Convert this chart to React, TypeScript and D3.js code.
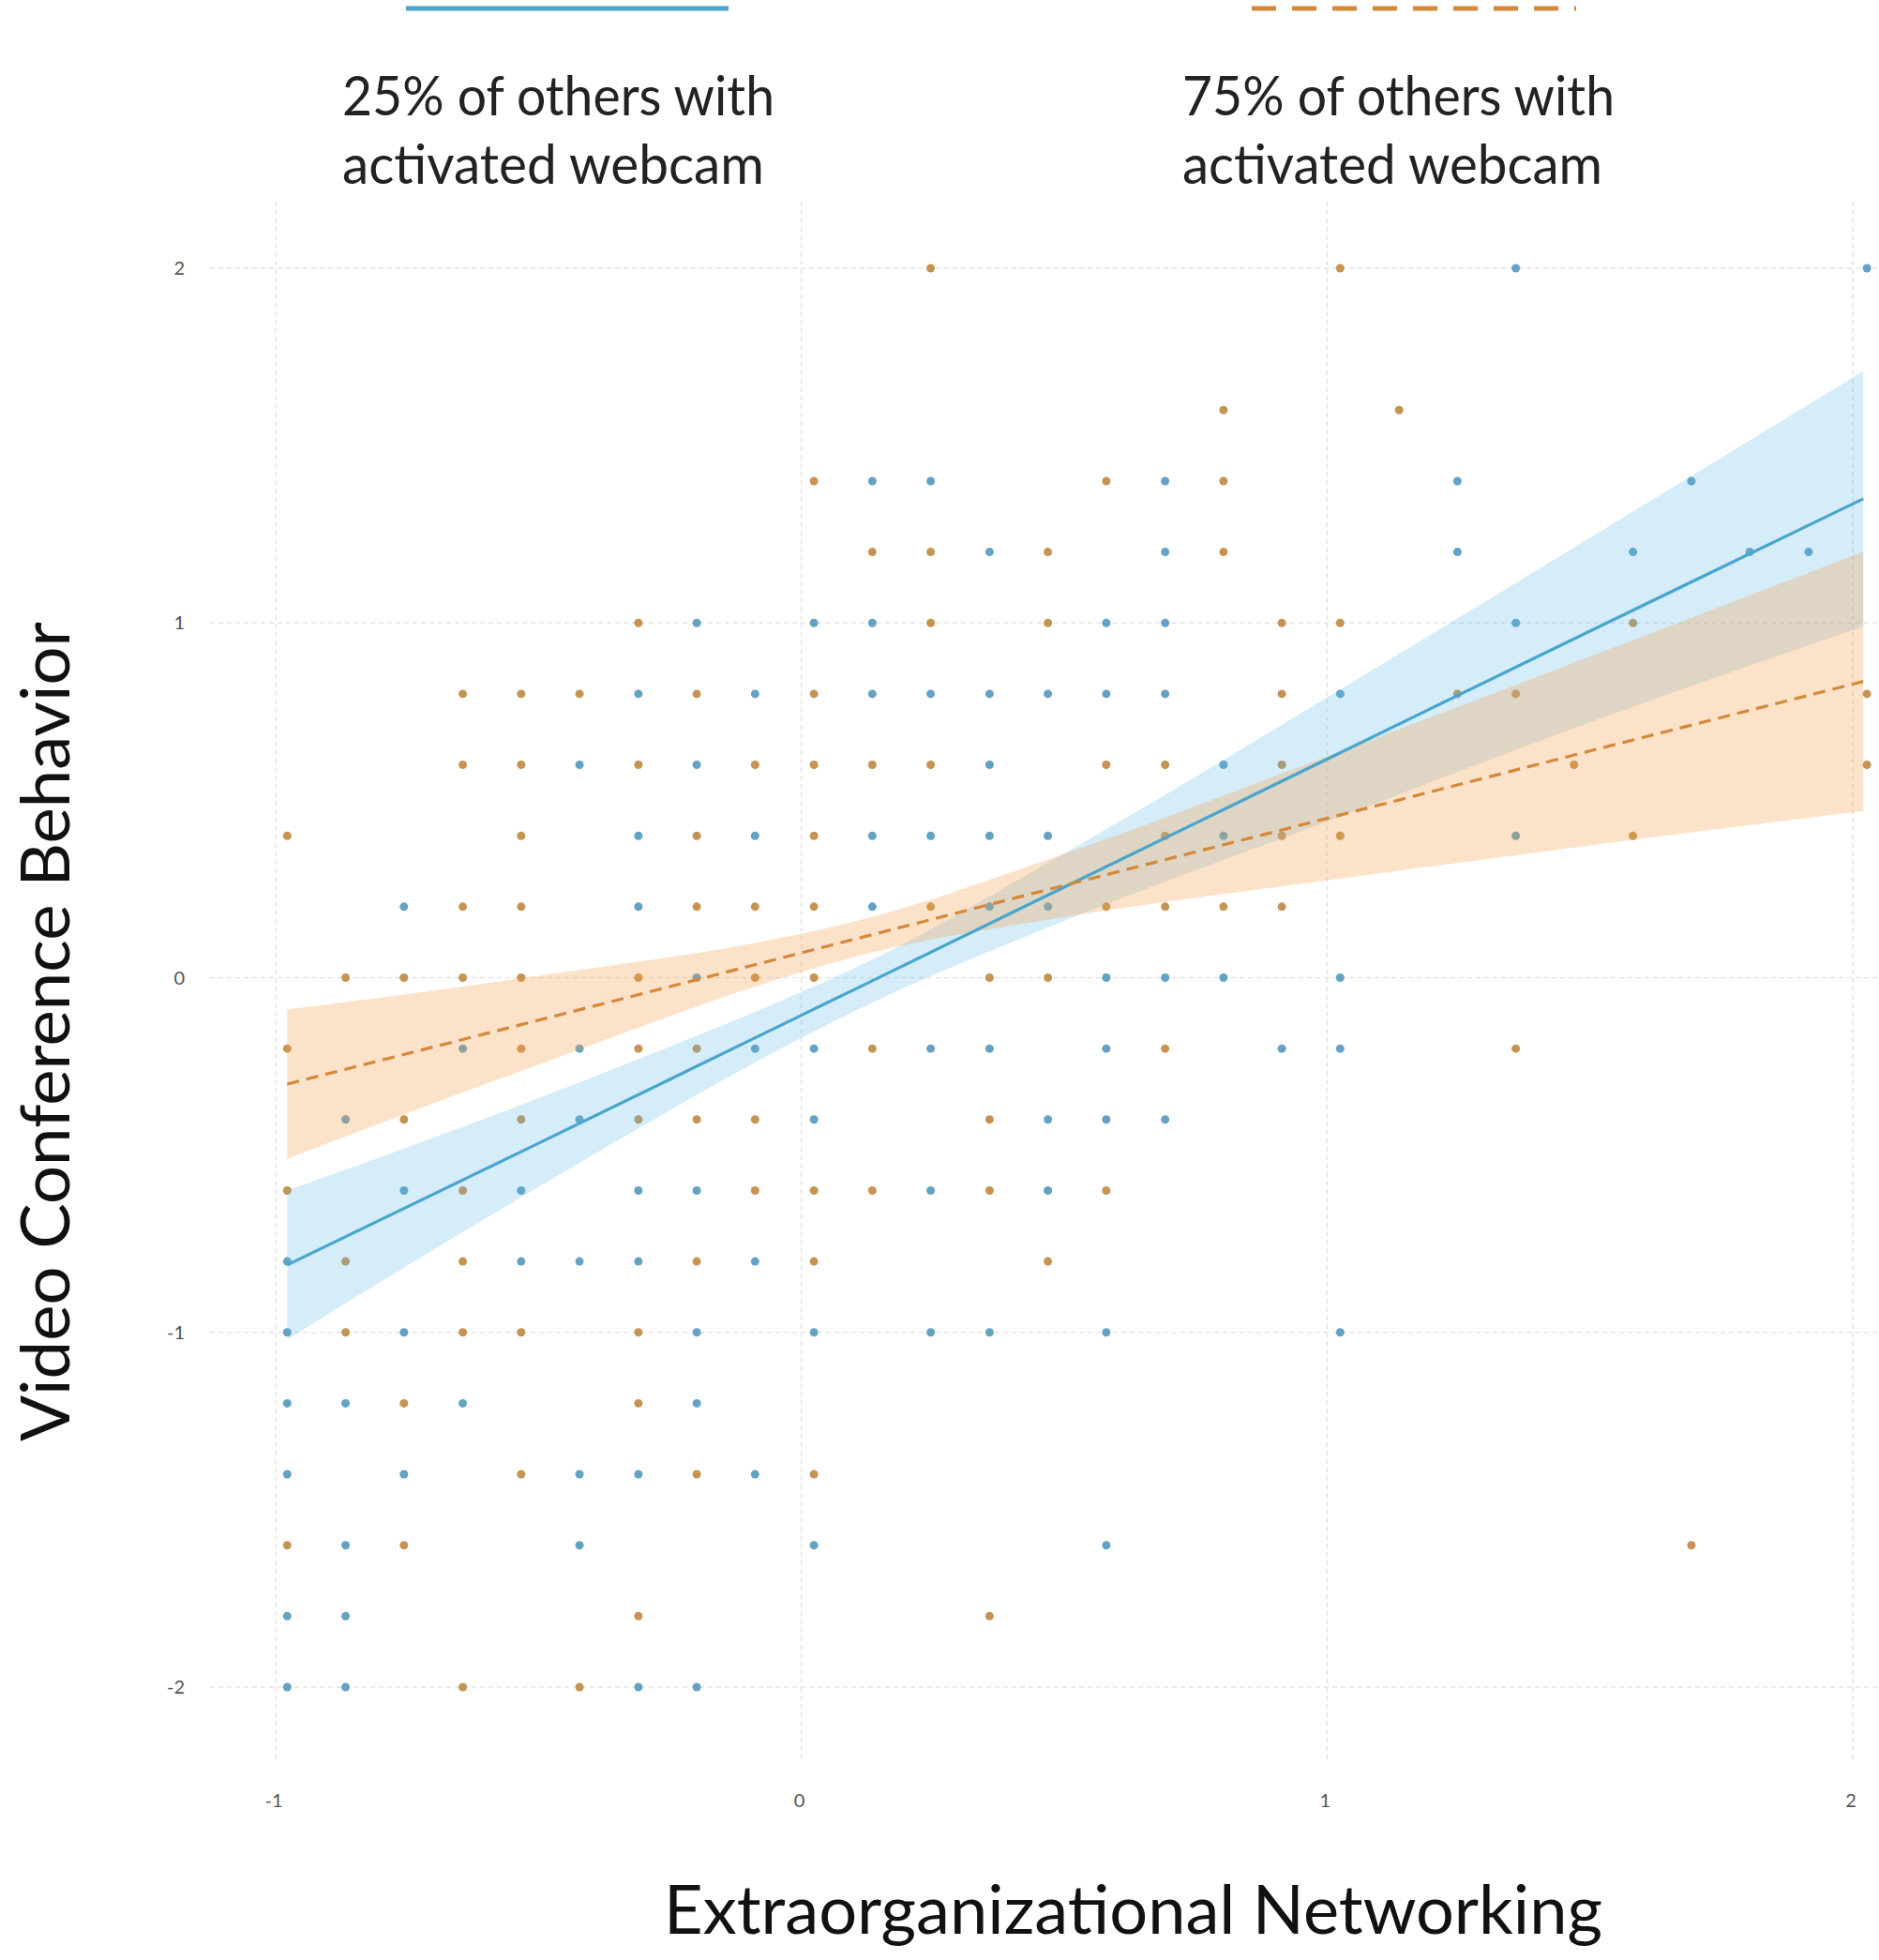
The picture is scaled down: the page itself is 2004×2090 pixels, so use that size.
import React from 'react';
import * as d3 from 'd3';

// discrete x positions of the observed scores (column index -> x value)
const xLevels = [
  -0.978, -0.867, -0.756, -0.644, -0.533, -0.422, -0.31, -0.199, -0.088, 0.024,
  0.135, 0.246, 0.358, 0.469, 0.58, 0.692, 0.803, 0.914, 1.025, 1.137,
  1.248, 1.359, 1.47, 1.582, 1.693, 1.804, 1.916, 2.027,
];

// points by row: [y, column indices]
const lowPoints: [number, number[]][] = [
  [2.0, [21, 27]],
  [1.4, [10, 11, 15, 20, 24]],
  [1.2, [12, 15, 20, 23, 25, 26]],
  [1.0, [7, 9, 10, 14, 15, 21]],
  [0.8, [6, 8, 10, 11, 12, 13, 14, 15, 18]],
  [0.6, [5, 7, 12, 16]],
  [0.4, [6, 8, 10, 11, 12, 13, 16, 21]],
  [0.2, [2, 6, 10, 12, 13]],
  [0.0, [7, 14, 15, 16, 18]],
  [-0.2, [3, 5, 8, 9, 11, 12, 14, 17, 18]],
  [-0.4, [1, 5, 9, 13, 14, 15]],
  [-0.6, [2, 4, 6, 7, 11, 13]],
  [-0.8, [0, 4, 5, 6, 8]],
  [-1.0, [0, 2, 7, 9, 11, 12, 14, 18]],
  [-1.2, [0, 1, 3, 7]],
  [-1.4, [0, 2, 5, 6, 8]],
  [-1.6, [1, 5, 9, 14]],
  [-1.8, [0, 1]],
  [-2.0, [0, 1, 6, 7]],
];

const highPoints: [number, number[]][] = [
  [2.0, [11, 18]],
  [1.6, [16, 19]],
  [1.4, [9, 14, 16]],
  [1.2, [10, 11, 13, 16]],
  [1.0, [6, 11, 13, 17, 18, 23]],
  [0.8, [3, 4, 5, 7, 9, 17, 20, 21, 27]],
  [0.6, [3, 4, 6, 8, 9, 10, 11, 14, 15, 17, 22, 27]],
  [0.4, [0, 4, 7, 9, 15, 17, 18, 23]],
  [0.2, [3, 4, 7, 8, 9, 11, 14, 15, 16, 17]],
  [0.0, [1, 2, 3, 4, 6, 8, 9, 12, 13]],
  [-0.2, [0, 4, 6, 7, 10, 15, 21]],
  [-0.4, [2, 4, 6, 7, 8, 12]],
  [-0.6, [0, 3, 8, 9, 10, 12, 14]],
  [-0.8, [1, 3, 7, 9, 13]],
  [-1.0, [1, 3, 4, 6]],
  [-1.2, [2, 6]],
  [-1.4, [4, 7, 9]],
  [-1.6, [0, 2, 24]],
  [-1.8, [6, 12]],
  [-2.0, [3, 5]],
];

// fitted lines and confidence bands
const bandX = [-0.978, -0.5, 0, 0.1, 0.5, 1, 1.5, 2.02];
const lowFit = [-0.81, -0.467, -0.106, -0.034, 0.255, 0.616, 0.977, 1.35];
const lowLower = [-1.02, -0.59, -0.17, -0.095, 0.16, 0.44, 0.72, 0.99];
const lowUpper = [-0.6, -0.34, -0.04, 0.026, 0.35, 0.79, 1.24, 1.71];
const highFit = [-0.3, -0.12, 0.07, 0.108, 0.26, 0.449, 0.639, 0.835];
const highLower = [-0.51, -0.245, 0.016, 0.058, 0.171, 0.274, 0.373, 0.47];
const highUpper = [-0.09, 0.005, 0.124, 0.158, 0.349, 0.624, 0.905, 1.2];

const xTicks = [-1, 0, 1, 2];
const yTicks = [-2, -1, 0, 1, 2];

const W = 2004;
const H = 2090;

export default function App() {
  const x = d3.scaleLinear().domain([-1, 2]).range([294, 1976]);
  const y = d3.scaleLinear().domain([-2, 2]).range([1799, 286]);

  const bandArea = (lo: number[], hi: number[]) =>
    d3.area<number>()
      .x((_, i) => x(bandX[i]))
      .y0((_, i) => y(lo[i]))
      .y1((_, i) => y(hi[i]))
      .curve(d3.curveMonotoneX)(bandX);

  const fitLine = (fit: number[]) =>
    d3.line<number>()
      .x((_, i) => x(bandX[i]))
      .y((_, i) => y(fit[i]))
      .curve(d3.curveMonotoneX)(bandX);

  const flatten = (rows: [number, number[]][]) =>
    rows.flatMap(([yv, cols]) => cols.map(k => ({ x: xLevels[k], y: yv })));

  const lowDots = flatten(lowPoints);
  const highDots = flatten(highPoints);

  const blue = '#56B4E9';
  const orange = '#F5A04A';
  const font = 'Lato, "Open Sans", sans-serif';

  return (
    <svg width={W} height={H} viewBox={`0 0 ${W} ${H}`}
      style={{ position: 'absolute', left: 0, top: 0, background: '#fff' }}>
      {/* grid */}
      <g stroke="#e4e4e4" strokeWidth={1.5} strokeDasharray="5,4" fill="none">
        {xTicks.map(t => (
          <line key={'gx' + t} x1={x(t)} x2={x(t)} y1={215} y2={1877} />
        ))}
        {yTicks.map(t => (
          <line key={'gy' + t} x1={224} x2={2004} y1={y(t)} y2={y(t)} />
        ))}
      </g>

      {/* tick labels */}
      <g fontFamily={font} fontSize={20} fill="#555">
        {yTicks.map(t => (
          <text key={'ty' + t} x={197} y={y(t)} dy="0.35em" textAnchor="end">{t}</text>
        ))}
        {xTicks.map(t => (
          <text key={'tx' + t} x={x(t) - 2} y={1920} dy="0.35em" textAnchor="middle">{t}</text>
        ))}
      </g>

      {/* points */}
      <g>
        {lowDots.map((d, i) => (
          <circle key={'l' + i} cx={x(d.x)} cy={y(d.y)} r={4.5} fill="#64A2C3" />
        ))}
        {highDots.map((d, i) => (
          <circle key={'h' + i} cx={x(d.x)} cy={y(d.y)} r={4.5} fill="#C69452" />
        ))}
      </g>

      {/* confidence bands */}
      <path d={bandArea(lowLower, lowUpper) || ''} fill={blue} fillOpacity={0.25} />
      <path d={bandArea(highLower, highUpper) || ''} fill={orange} fillOpacity={0.3} />

      {/* fitted lines */}
      <path d={fitLine(lowFit) || ''} fill="none" stroke="#49A5CC" strokeWidth={3.2} />
      <path d={fitLine(highFit) || ''} fill="none" stroke="#D4883A" strokeWidth={3.2}
        strokeDasharray="13,8" />

      {/* legend */}
      <line x1={433} x2={777} y1={9} y2={9} stroke="#49A5CC" strokeWidth={5} />
      <line x1={1335} x2={1681} y1={9} y2={9} stroke="#D4883A" strokeWidth={5}
        strokeDasharray="26,17" />
      <g fontFamily={font} fontSize={58} fill="#222">
        <text x={365} y={123} textLength={461} lengthAdjust="spacingAndGlyphs">25% of others with</text>
        <text x={365} y={196} textLength={450} lengthAdjust="spacingAndGlyphs">activated webcam</text>
        <text x={1261} y={123} textLength={461} lengthAdjust="spacingAndGlyphs">75% of others with</text>
        <text x={1261} y={196} textLength={448} lengthAdjust="spacingAndGlyphs">activated webcam</text>
      </g>

      {/* axis titles */}
      <text x={708} y={2062} fontFamily={font} fontSize={72} fill="#111"
        textLength={1001} lengthAdjust="spacingAndGlyphs">Extraorganizational Networking</text>
      <text transform="translate(74,1100) rotate(-90)" textAnchor="middle"
        fontFamily={font} fontSize={72} fill="#111"
        textLength={874} lengthAdjust="spacingAndGlyphs">Video Conference Behavior</text>
    </svg>
  );
}
